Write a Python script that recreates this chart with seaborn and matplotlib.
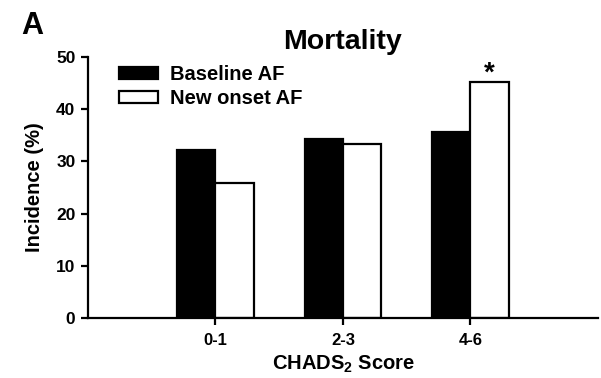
import matplotlib
matplotlib.use("Agg")
import matplotlib.pyplot as plt
import seaborn as sns
import pandas as pd

# Mortality incidence by CHADS2 score group
score_groups = ["0-1", "2-3", "4-6"]
baseline_af = [32.2, 34.3, 35.7]
new_onset_af = [25.9, 33.3, 45.3]
series_names = ["Baseline AF", "New onset AF"]
y_ticks = [0, 10, 20, 30, 40, 50]

df = pd.DataFrame({
    "group": score_groups * 2,
    "incidence": baseline_af + new_onset_af,
    "series": [series_names[0]] * 3 + [series_names[1]] * 3,
})

sns.set_style("ticks")
plt.rcParams["font.family"] = ["Liberation Sans", "DejaVu Sans"]
plt.rcParams["font.weight"] = "bold"
plt.rcParams["text.color"] = "black"
plt.rcParams["axes.labelcolor"] = "black"
plt.rcParams["mathtext.fontset"] = "custom"
plt.rcParams["mathtext.rm"] = "Liberation Sans:bold"
plt.rcParams["mathtext.bf"] = "Liberation Sans:bold"

fig = plt.figure(figsize=(6.01, 3.78), dpi=100)
ax = fig.add_axes([0.1464, 0.1587, 0.8486, 0.6903])

sns.barplot(data=df, x="group", y="incidence", hue="series",
            palette=["black", "white"], width=0.6, dodge=True,
            edgecolor="black", linewidth=1.6, ax=ax, legend=True)

ax.set_ylim(0, 50)
ax.set_xlim(-1, 3)
ax.set_yticks(y_ticks)
ax.set_yticklabels([str(t) for t in y_ticks])
sns.despine(ax=ax)
for s in ["left", "bottom"]:
    ax.spines[s].set_linewidth(1.6)
    ax.spines[s].set_color("black")
ax.tick_params(axis="both", direction="out", width=1.6, length=5,
               colors="black", pad=4)
ax.tick_params(axis="y", labelsize=12.5)
ax.tick_params(axis="x", labelsize=12, pad=6)
for lab in ax.get_xticklabels() + ax.get_yticklabels():
    lab.set_fontweight("bold")

ax.set_ylabel("Incidence (%)", fontsize=14.5, fontweight="bold", labelpad=9)
ax.set_xlabel(r"CHADS$_\mathbf{2}$ Score", fontsize=14.5, fontweight="bold", labelpad=4)

ax.set_title("Mortality", fontsize=20.5, fontweight="bold", pad=6)

leg = ax.legend(loc="upper left", bbox_to_anchor=(0.042, 1.008), frameon=False,
                fontsize=14.5, handlelength=1.9, handleheight=0.6,
                handletextpad=0.6, labelspacing=0.25, borderaxespad=0.1)
for t in leg.get_texts():
    t.set_fontweight("bold")

# significance marker over the new-onset bar in the highest score group
new_bar = ax.patches[len(score_groups) + 2]
ax.text(new_bar.get_x() + new_bar.get_width() / 2, new_onset_af[2] + 0.1, "*",
        ha="center", va="baseline", fontsize=20, fontweight="bold")

fig.text(0.036, 0.972, "A", fontsize=22, fontweight="bold", va="top", ha="left")

fig.savefig("out.png", dpi=100)
